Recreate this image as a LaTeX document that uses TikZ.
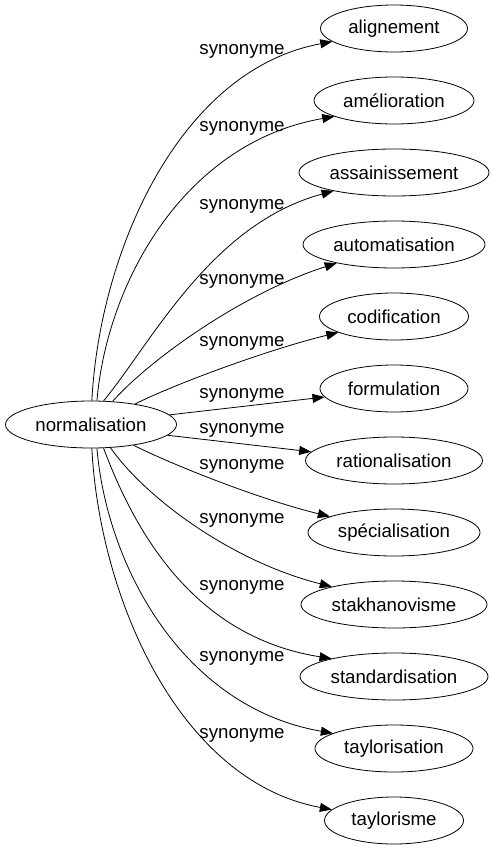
\documentclass[tikz,border=0pt]{standalone}
\usepackage{fontspec}
\setmainfont{Liberation Sans}
\usetikzlibrary{arrows.meta,shapes.geometric}
\begin{document}
\begin{tikzpicture}[x=1pt,y=-1pt,
    mot/.style={draw,ellipse,line width=0.8pt,minimum height=47pt,inner sep=0pt,font=\fontsize{18.67}{22}\selectfont},
    syn/.style={inner sep=0pt,font=\fontsize{18.67}{22}\selectfont},
    lien/.style={line width=0.8pt,-{Stealth[inset=0pt,length=12pt,width=9pt]}}]
    \useasboundingbox (0,0) rectangle (492,851);
    % noeuds
    \node[mot,minimum width=171pt] (normalisation) at (91,424.5) {normalisation};
    \node[mot,minimum width=147pt] (alignement) at (394,28.5) {alignement};
    \node[mot,minimum width=160pt] (amelioration) at (394,100.5) {amélioration};
    \node[mot,minimum width=190pt] (assainissement) at (394,172.5) {assainissement};
    \node[mot,minimum width=182pt] (automatisation) at (394,244.5) {automatisation};
    \node[mot,minimum width=149pt] (codification) at (394,316.5) {codification};
    \node[mot,minimum width=148pt] (formulation) at (394,388.5) {formulation};
    \node[mot,minimum width=177pt] (rationalisation) at (394,460.5) {rationalisation};
    \node[mot,minimum width=172pt] (specialisation) at (394,532.5) {spécialisation};
    \node[mot,minimum width=186pt] (stakhanovisme) at (394,604.5) {stakhanovisme};
    \node[mot,minimum width=188pt] (standardisation) at (394,676.5) {standardisation};
    \node[mot,minimum width=158pt] (taylorisation) at (394,748.5) {taylorisation};
    \node[mot,minimum width=139pt] (taylorisme) at (394,820.5) {taylorisme};
    % etiquettes
    \node[syn] (s1) at (242,51) {synonyme};
    \node[syn] (s2) at (242,128) {synonyme};
    \node[syn] (s3) at (242,206.5) {synonyme};
    \node[syn] (s4) at (242,281.5) {synonyme};
    \node[syn] (s5) at (242,343) {synonyme};
    \node[syn] (s6) at (242,395) {synonyme};
    \node[syn] (s7) at (242,430) {synonyme};
    \node[syn] (s8) at (242,466.5) {synonyme};
    \node[syn] (s9) at (242,520) {synonyme};
    \node[syn] (s10) at (242,587) {synonyme};
    \node[syn] (s11) at (242,658.5) {synonyme};
    \node[syn] (s12) at (242,735.5) {synonyme};
    % fleches
    \draw[lien] (normalisation.88) .. controls +(8,-151) and +(-152,28) .. (alignement.192);
    \draw[lien] (normalisation.76) .. controls +(10,-118) and +(-150,26) .. (amelioration.195);
    \draw[lien] (normalisation.62) .. controls +(47,-56.5) and +(-123,33) .. (assainissement.197);
    \draw[lien] (normalisation.47) .. controls +(38,-42.5) and +(-94,30) .. (automatisation.198);
    \draw[lien] (normalisation.25) .. controls +(40,-20) and +(-70,17) .. (codification.196);
    \draw[lien] (normalisation.7) -- (formulation.187);
    \draw[lien] (normalisation.-8) -- (rationalisation.174);
    \draw[lien] (normalisation.-26) .. controls +(40,20) and +(-70,-17) .. (specialisation.166);
    \draw[lien] (normalisation.-50) .. controls +(35,50) and +(-100,-25) .. (stakhanovisme.164);
    \draw[lien] (normalisation.-62) .. controls +(30,80) and +(-140,-22) .. (standardisation.164);
    \draw[lien] (normalisation.-76) .. controls +(10,118) and +(-150,-26) .. (taylorisation.166);
    \draw[lien] (normalisation.-88) .. controls +(8,151) and +(-152,-28) .. (taylorisme.170);
\end{tikzpicture}
\end{document}
